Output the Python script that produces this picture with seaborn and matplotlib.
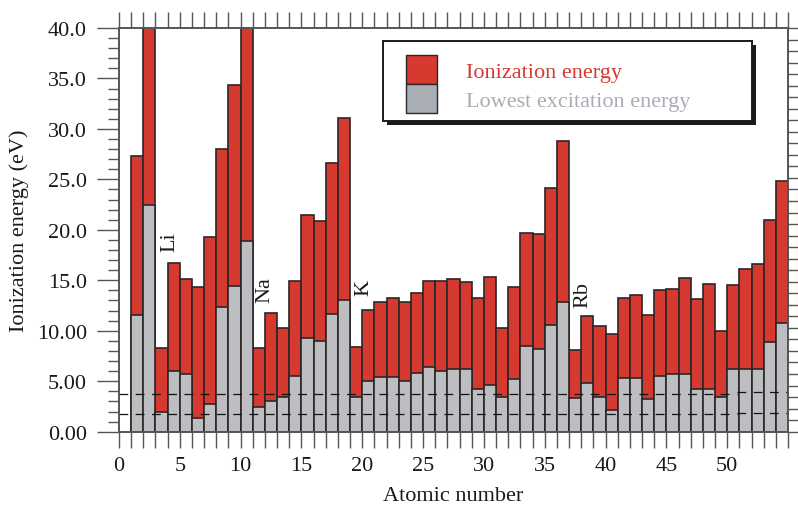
import numpy as np
import pandas as pd
import seaborn as sns
import matplotlib.pyplot as plt
from matplotlib.patches import Patch, Rectangle

# bar k covers [k, k+1] on the atomic number axis
atomic_number = np.arange(1, 55)
ionization = [27.3, 45.0, 8.3, 16.7, 15.1, 14.3, 19.3, 28.0, 34.4, 45.0,
              8.3, 11.8, 10.3, 14.9, 21.5, 20.9, 26.6, 31.1, 8.4, 12.1,
              12.9, 13.2, 12.9, 13.7, 14.9, 14.9, 15.1, 14.8, 13.2, 15.3,
              10.3, 14.3, 19.7, 19.6, 24.1, 28.8, 8.1, 11.5, 10.5, 9.7,
              13.2, 13.5, 11.6, 14.0, 14.1, 15.2, 13.1, 14.6, 10.0, 14.5,
              16.1, 16.6, 21.0, 24.8]
excitation = [11.6, 22.5, 2.0, 6.0, 5.7, 1.4, 2.7, 12.4, 14.4, 18.9,
              2.4, 3.0, 3.4, 5.5, 9.3, 9.0, 11.7, 13.0, 3.4, 5.0,
              5.4, 5.4, 5.0, 5.8, 6.4, 6.0, 6.2, 6.2, 4.2, 4.6,
              3.4, 5.2, 8.5, 8.2, 10.6, 12.9, 3.3, 4.8, 3.4, 2.1,
              5.3, 5.3, 3.2, 5.5, 5.7, 5.7, 4.2, 4.2, 3.4, 6.2,
              6.2, 6.2, 8.9, 10.8]

# alkali labels (rotated text)
alkali = ['Li', 'Na', 'K', 'Rb']
alkali_x = [4.2, 12.0, 20.1, 38.1]
alkali_y = [17.9, 12.9, 13.5, 12.4]

# dashed reference levels (small step near the right end)
ref_split = 50.8
ref_left = [3.75, 1.76]
ref_right = [3.93, 1.88]

y_ticks = [0, 5, 10, 15, 20, 25, 30, 35, 40]
y_labels = ['0.00', '5.00', '10.00', '15.0', '20.0', '25.0', '30.0', '35.0', '40.0']

df = pd.DataFrame({'z': atomic_number + 0.5, 'ion': ionization, 'exc': excitation})

red = '#d6392f'
grey = '#bdbec2'
edge = '#2b2626'
axcol = '#555555'

sns.set_theme(style='ticks')
plt.rcParams['font.family'] = ['Liberation Serif', 'DejaVu Serif']
plt.rcParams['font.size'] = 16

fig = plt.figure(figsize=(7.98, 5.10), dpi=100)
ax = fig.add_axes([0.1491, 0.1516, 0.8384, 0.7915])

sns.barplot(data=df, x='z', y='ion', native_scale=True, width=1, color=red,
            saturation=1, edgecolor=edge, linewidth=1.2, errorbar=None, ax=ax)
sns.barplot(data=df, x='z', y='exc', native_scale=True, width=1, color=grey,
            saturation=1, edgecolor=edge, linewidth=1.2, errorbar=None, ax=ax)

for lvl in ref_left:
    ax.plot([0, ref_split], [lvl, lvl], color='#111111', lw=0.9, ls=(0, (7, 6)), zorder=4)
for lvl in ref_right:
    ax.plot([ref_split, 55], [lvl, lvl], color='#111111', lw=0.9, ls=(0, (7, 6)), zorder=4)

for name, x, y in zip(alkali, alkali_x, alkali_y):
    ax.text(x, y, name, rotation=90, ha='center', va='bottom', fontsize=16, color='#1a1a1a')

ax.set_xlim(0, 55)
ax.set_ylim(0, 40)
xt = np.arange(0, 56)
ax.set_xticks(xt)
ax.set_xticklabels([str(t) if (t % 5 == 0 and t <= 50) else '' for t in xt])
ax.set_yticks(y_ticks)
ax.set_yticklabels(y_labels)
ax.set_yticks(np.arange(0, 41), minor=True)
ax.tick_params(axis='x', which='both', top=True, bottom=True, direction='out',
               length=11.5, width=1, color=axcol, labelsize=16, pad=6, labelcolor='#1a1a1a')
ax.tick_params(axis='y', which='major', left=True, right=False, direction='out',
               length=16, width=1, color=axcol, labelsize=16, pad=7, labelcolor='#1a1a1a')
ax.tick_params(axis='y', which='minor', left=True, right=False, direction='out',
               length=8, width=1, color=axcol)
for s in ax.spines.values():
    s.set_color(axcol)
    s.set_linewidth(1.2)
    s.set_visible(True)

ax.set_xlabel('Atomic number', fontsize=16, labelpad=8, color='#1a1a1a')
ax.set_ylabel('Ionization energy (eV)', fontsize=16, labelpad=6, color='#1a1a1a')

ax2 = ax.twinx()
ax2.set_ylim(0, 35)
ax2.set_yticks(np.arange(0, 36))
ax2.set_yticklabels([])
ax2.tick_params(axis='y', right=True, left=False, direction='out', length=7, width=1, color=axcol)
for s in ax2.spines.values():
    s.set_color(axcol)
    s.set_linewidth(1.2)

# legend box with drop shadow
bx0, by0, bw, bh = 0.3946, 0.7696, 0.5516, 0.1982
ax.add_patch(Rectangle((bx0 + 0.0065, by0 - 0.011), bw, bh, transform=ax.transAxes,
                       facecolor='#1a1a1a', edgecolor='none', zorder=6, clip_on=False))
ax.add_patch(Rectangle((bx0, by0), bw, bh, transform=ax.transAxes,
                       facecolor='white', edgecolor='#1a1a1a', lw=1.4, zorder=7, clip_on=False))
handles = [Patch(facecolor=red, edgecolor=edge, lw=1.0),
           Patch(facecolor='#a9aeb5', edgecolor=edge, lw=1.0)]
leg = ax.legend(handles, ['Ionization energy', 'Lowest excitation energy'],
                loc='upper left', bbox_to_anchor=(0.429, 0.932), frameon=False,
                borderpad=0, borderaxespad=0, handlelength=1.4, handleheight=1.62,
                labelspacing=0, handletextpad=1.3, fontsize=16,
                labelcolor=[red, '#a8adb5'])
leg.set_zorder(8)

fig.savefig('out.png', dpi=100)
